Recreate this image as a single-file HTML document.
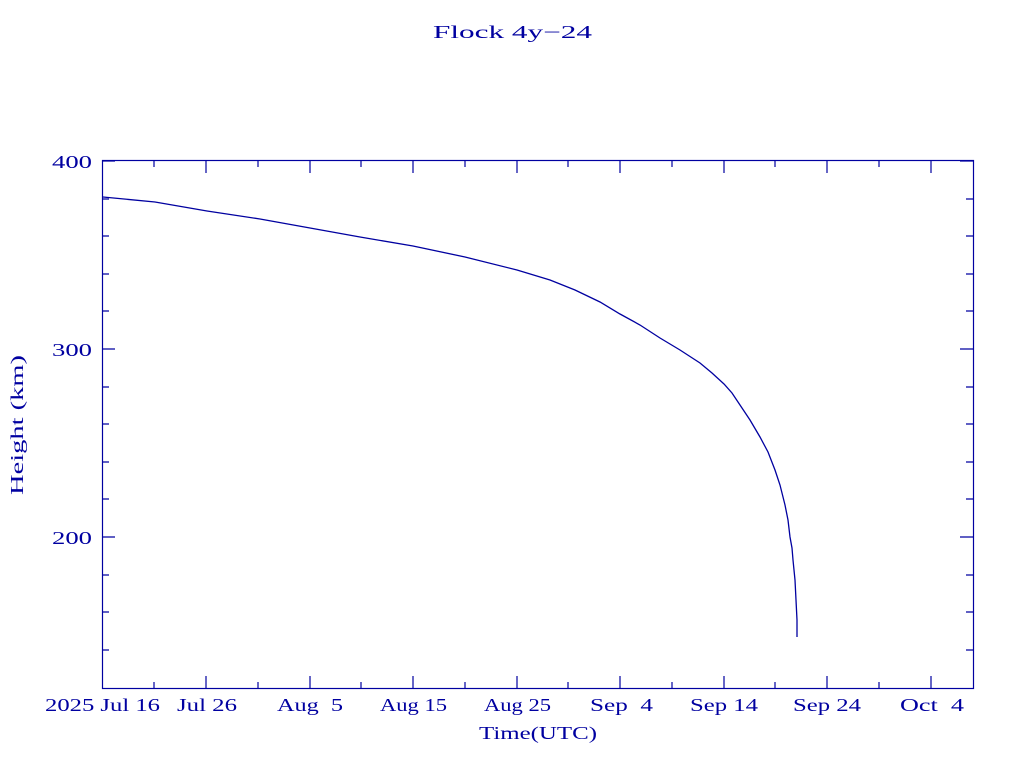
<!DOCTYPE html>
<html><head><style>
body{margin:0;background:#fff;}
svg text{font-family:"Liberation Serif",serif;fill:#0000a0;font-size:18px;white-space:pre;}
</style></head><body>
<svg width="1024" height="768" xmlns="http://www.w3.org/2000/svg">
<rect x="102.5" y="160.5" width="871" height="528" fill="none" stroke="#0000a0" stroke-width="1.2"/>
<g stroke="#0000a0" stroke-width="1.2">
<path d="M102 161h13M102 349h13M102 537h13M973 161h-13M973 349h-13M973 537h-13"/>
<path d="M102 199h7M102 236h7M102 274h7M102 311h7M102 387h7M102 424h7M102 462h7M102 499h7M102 575h7M102 612h7M102 650h7
M973 199h-7M973 236h-7M973 274h-7M973 311h-7M973 387h-7M973 424h-7M973 462h-7M973 499h-7M973 575h-7M973 612h-7M973 650h-7"/>
<path d="M206 689v-13M310 689v-13M413 689v-13M517 689v-13M620 689v-13M724 689v-13M827 689v-13M931 689v-13
M206 160v13M310 160v13M413 160v13M517 160v13M620 160v13M724 160v13M827 160v13M931 160v13"/>
<path d="M154 689v-7M258 689v-7M361 689v-7M465 689v-7M568 689v-7M672 689v-7M775 689v-7M879 689v-7
M154 160v7M258 160v7M361 160v7M465 160v7M568 160v7M672 160v7M775 160v7M879 160v7"/>
</g>
<polyline fill="none" stroke="#0000a0" stroke-width="1.3" points="103,197 155,202 207,211 260,219 310,228 360,237 413,246 465,257 517,270 550,280 575,290 600,302 620,314 640,325 660,338 680,350 700,363 712,373 724,384 732,393 740,405 750,420 760,437 768,452 775,470 780,485 785,505 788,520 790,537 792,548 793,560 795,580 796,600 797,620 797,637"/>
<text x="433" y="38" font-size="21" textLength="159" lengthAdjust="spacingAndGlyphs">Flock 4y−24</text>
<text x="52" y="168" textLength="40" lengthAdjust="spacingAndGlyphs">400</text>
<text x="52" y="356" textLength="40" lengthAdjust="spacingAndGlyphs">300</text>
<text x="52" y="544" textLength="40" lengthAdjust="spacingAndGlyphs">200</text>
<text x="479" y="739" font-size="21" textLength="118" lengthAdjust="spacingAndGlyphs">Time(UTC)</text>
<text transform="translate(23,495) rotate(-90)" font-size="21" textLength="140" lengthAdjust="spacingAndGlyphs">Height (km)</text>
<g>
<text x="45" y="711" textLength="115" lengthAdjust="spacingAndGlyphs">2025 Jul 16</text>
<text x="177" y="711" textLength="60" lengthAdjust="spacingAndGlyphs">Jul 26</text>
<text x="277" y="711" textLength="66" lengthAdjust="spacingAndGlyphs">Aug  5</text>
<text x="380" y="711" textLength="67" lengthAdjust="spacingAndGlyphs">Aug 15</text>
<text x="484" y="711" textLength="67" lengthAdjust="spacingAndGlyphs">Aug 25</text>
<text x="590" y="711" textLength="63" lengthAdjust="spacingAndGlyphs">Sep  4</text>
<text x="690" y="711" textLength="68" lengthAdjust="spacingAndGlyphs">Sep 14</text>
<text x="793" y="711" textLength="68" lengthAdjust="spacingAndGlyphs">Sep 24</text>
<text x="900" y="711" textLength="64" lengthAdjust="spacingAndGlyphs">Oct  4</text>
</g>
</svg>
</body></html>
